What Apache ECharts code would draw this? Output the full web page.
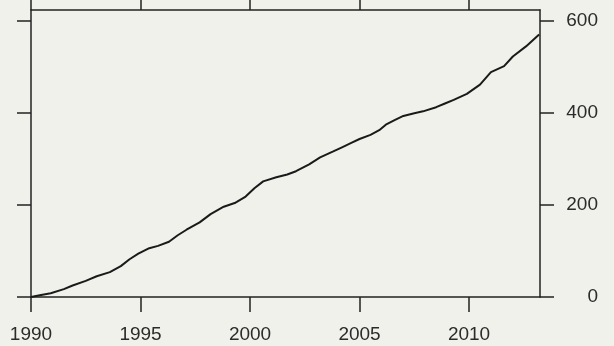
<!DOCTYPE html>
<html>
<head>
<meta charset="utf-8">
<script src="https://cdn.jsdelivr.net/npm/echarts@6/dist/echarts.min.js"></script>
<style>
  html, body { margin: 0; padding: 0; background: #f1f1ec; }
  #chart { width: 614px; height: 346px; }
</style>
</head>
<body>
<div id="chart"></div>
<script>
// Cumulative total by year
const years = [
  1990.0, 1990.4, 1990.9, 1991.5, 1991.9, 1992.5, 1993.0, 1993.6, 1994.1, 1994.5,
  1994.9, 1995.4, 1995.8, 1996.3, 1996.7, 1997.1, 1997.7, 1998.2, 1998.8, 1999.3,
  1999.8, 2000.2, 2000.6, 2001.2, 2001.7, 2002.1, 2002.7, 2003.2, 2003.8, 2004.2,
  2004.6, 2005.0, 2005.5, 2005.9, 2006.2, 2006.6, 2007.0, 2007.5, 2007.9, 2008.5,
  2008.9, 2009.3, 2009.9, 2010.5, 2011.0, 2011.6, 2012.0, 2012.6, 2013.2
];
const totals = [
  0, 4, 8, 17, 25, 35, 45, 54, 67, 82,
  94, 106, 111, 120, 134, 146, 162, 180, 196, 204,
  218, 236, 251, 260, 266, 273, 288, 303, 316, 325,
  334, 343, 352, 362, 374, 384, 393, 399, 403, 412,
  420, 428, 441, 461, 488, 501, 522, 544, 570
];
const yearTicks = [1990, 1995, 2000, 2005, 2010];
const valueTicks = [0, 200, 400, 600];

const ink = '#222';
const textColor = '#2b2b2b';
const font = '"Liberation Sans", Arial, sans-serif';
const xMin = 1990, xMax = 2013.24;
const yMin = 0, yMax = 623;

const chart = echarts.init(document.getElementById('chart'));
chart.setOption({
  backgroundColor: '#f1f1ec',
  animation: false,
  grid: { left: 31, right: 74, top: 10, bottom: 49 },
  xAxis: [
    {
      type: 'value', position: 'bottom', min: xMin, max: xMax,
      splitLine: { show: false },
      axisLine: { show: true, onZero: false, lineStyle: { color: ink, width: 1.5 } },
      axisTick: { show: true, length: 15, customValues: yearTicks, lineStyle: { color: ink, width: 1.5 } },
      axisLabel: {
        customValues: yearTicks, margin: 28, fontSize: 19, color: textColor, fontFamily: font,
        formatter: v => String(v)
      }
    },
    {
      type: 'value', position: 'top', min: xMin, max: xMax,
      splitLine: { show: false },
      axisLine: { show: true, onZero: false, lineStyle: { color: ink, width: 1.5 } },
      axisTick: { show: true, length: 14, customValues: yearTicks, lineStyle: { color: ink, width: 1.5 } },
      axisLabel: { show: false }
    }
  ],
  yAxis: [
    {
      type: 'value', position: 'left', min: yMin, max: yMax,
      splitLine: { show: false },
      axisLine: { show: true, onZero: false, lineStyle: { color: ink, width: 1.5 } },
      axisTick: { show: true, length: 14, customValues: valueTicks, lineStyle: { color: ink, width: 1.5 } },
      axisLabel: { show: false }
    },
    {
      type: 'value', position: 'right', min: yMin, max: yMax,
      splitLine: { show: false },
      axisLine: { show: true, onZero: false, lineStyle: { color: ink, width: 1.5 } },
      axisTick: { show: true, length: 14, customValues: valueTicks, lineStyle: { color: ink, width: 1.5 } },
      axisLabel: {
        customValues: valueTicks, margin: 58, align: 'right', fontSize: 19, color: textColor, fontFamily: font,
        formatter: v => String(v)
      }
    }
  ],
  series: [{
    type: 'line',
    xAxisIndex: 0, yAxisIndex: 0,
    data: years.map((y, i) => [y, totals[i]]),
    showSymbol: false,
    lineStyle: { color: '#1a1a1a', width: 2 }
  }]
});
</script>
</body>
</html>
